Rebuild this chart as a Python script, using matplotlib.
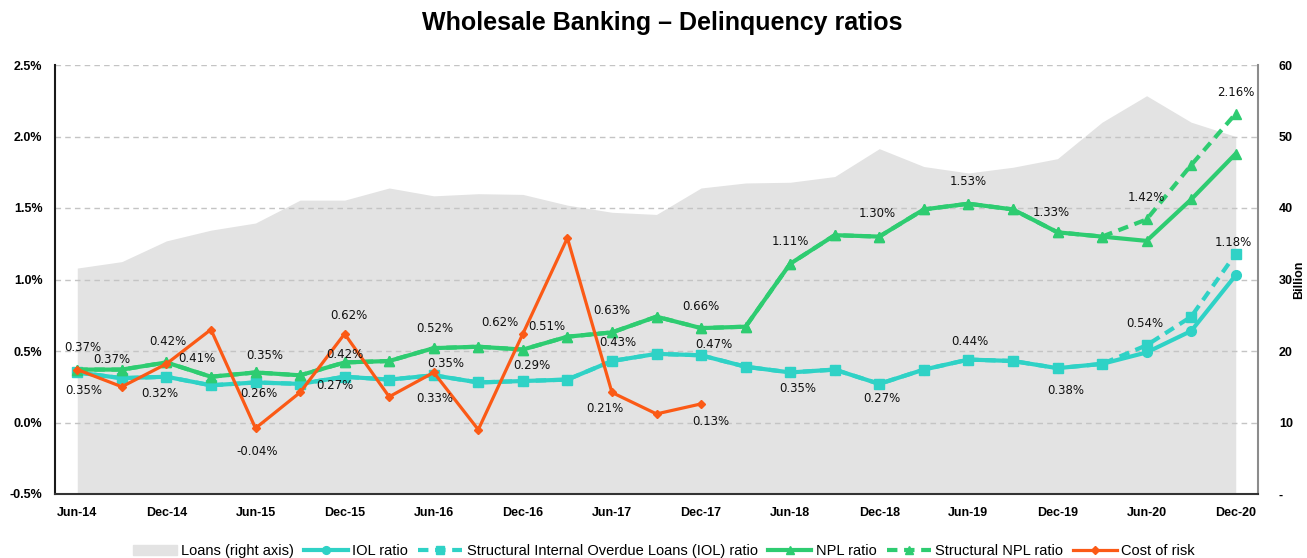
import numpy as np
import matplotlib
matplotlib.use("Agg")
import matplotlib.pyplot as plt
from matplotlib.patches import Patch

# quarterly data, Jun-14 .. Dec-20
quarters = ["Jun-14", "Sep-14", "Dec-14", "Mar-15", "Jun-15", "Sep-15", "Dec-15",
            "Mar-16", "Jun-16", "Sep-16", "Dec-16", "Mar-17", "Jun-17", "Sep-17",
            "Dec-17", "Mar-18", "Jun-18", "Sep-18", "Dec-18", "Mar-19", "Jun-19",
            "Sep-19", "Dec-19", "Mar-20", "Jun-20", "Sep-20", "Dec-20"]

loans = [31.6, 32.5, 35.4, 36.9, 37.9, 41.1, 41.1, 42.8, 41.7, 42.0, 41.9, 40.4, 39.4,
         39.1, 42.8, 43.5, 43.6, 44.4, 48.3, 45.8, 44.9, 45.7, 46.9, 52.0, 55.7, 52.0, 50.0]

iol = [0.35, 0.31, 0.32, 0.26, 0.28, 0.27, 0.32, 0.30, 0.33, 0.28, 0.29, 0.30, 0.43, 0.48,
       0.47, 0.39, 0.35, 0.37, 0.27, 0.37, 0.44, 0.43, 0.38, 0.41, 0.49, 0.64, 1.03]
iol_struct = [0.35, 0.31, 0.32, 0.26, 0.28, 0.27, 0.32, 0.30, 0.33, 0.28, 0.29, 0.30, 0.43, 0.48,
              0.47, 0.39, 0.35, 0.37, 0.27, 0.37, 0.44, 0.43, 0.38, 0.41, 0.54, 0.74, 1.18]

npl = [0.37, 0.37, 0.42, 0.32, 0.35, 0.33, 0.42, 0.43, 0.52, 0.53, 0.51, 0.60, 0.63, 0.74,
       0.66, 0.67, 1.11, 1.31, 1.30, 1.49, 1.53, 1.49, 1.33, 1.30, 1.27, 1.56, 1.88]
npl_struct = [0.37, 0.37, 0.42, 0.32, 0.35, 0.33, 0.42, 0.43, 0.52, 0.53, 0.51, 0.60, 0.63, 0.74,
              0.66, 0.67, 1.11, 1.31, 1.30, 1.49, 1.53, 1.49, 1.33, 1.30, 1.42, 1.80, 2.16]

cost_of_risk = [0.37, 0.25, 0.41, 0.65, -0.04, 0.21, 0.62, 0.18, 0.35, -0.05, 0.62, 1.29,
                0.21, 0.06, 0.13] + [np.nan] * 12

# which points carry a data label, and where (pixel offset: right, up)
data_labels = [
    ("cost", 0, 6, 22), ("npl", 1, -10, 10), ("iol", 0, 6, -18), ("iol", 2, -7, -17),
    ("npl", 2, 1, 21), ("cost", 2, 30, 5), ("iol", 3, 48, -8), ("npl", 4, 9, 17),
    ("cost", 4, 2, -23), ("iol", 5, 35, -2), ("cost", 6, 4, 18), ("npl", 6, 0, 8),
    ("npl", 8, 1, 20), ("cost", 8, 12, 9), ("iol", 8, 1, -23), ("cost", 10, -23, 11),
    ("npl", 10, 24, 23), ("iol", 10, 9, 16), ("npl", 12, 0, 22), ("iol", 12, 6, 19),
    ("cost", 12, -7, -16), ("npl", 14, 0, 22), ("iol", 14, 13, 11), ("cost", 14, 10, -18),
    ("npl", 16, 0, 22), ("iol", 16, 8, -16), ("npl", 18, -2, 23), ("iol", 18, 3, -15),
    ("npl", 20, 0, 22), ("iol", 20, 1, 18), ("npl", 22, -6, 20), ("iol", 22, 8, -22),
    ("npl_s", 24, 0, 22), ("iol_s", 24, -2, 22), ("npl_s", 26, 0, 21), ("iol_s", 26, -2, 11),
]

CYAN = "#2fd2c6"
GREEN = "#2ecc71"
ORANGE = "#fb5a16"
GREY = "#e3e3e3"

plt.rcParams["font.family"] = ["Liberation Sans", "DejaVu Sans"]

fig = plt.figure(figsize=(13.07, 5.58), dpi=100)
ax = fig.add_axes([55 / 1307, 1 - 494 / 558, 1203 / 1307, 429 / 558])
ax2 = ax.twinx()
ax.set_zorder(ax2.get_zorder() + 1)
ax.patch.set_visible(False)

x = np.arange(len(quarters))

# loans area on the right axis
ax2.fill_between(x, loans, 0, color=GREY, lw=0)
ax2.set_ylim(0, 60)
ax2.set_yticks(range(0, 61, 10))
ax2.set_yticklabels(["-"] + [str(v) for v in range(10, 61, 10)], fontweight="bold", fontsize=9)
ax2.tick_params(length=0, pad=15)
ax2.set_ylabel("Billion", fontweight="bold", fontsize=9, labelpad=0)
for s in ["left", "top", "bottom"]:
    ax2.spines[s].set_visible(False)
ax2.spines["right"].set_color("#8c8c8c")
ax2.spines["right"].set_linewidth(1.5)

series = {
    "iol": iol, "iol_s": iol_struct, "npl": npl, "npl_s": npl_struct, "cost": cost_of_risk,
}

h_iol, = ax.plot(x, iol, color=CYAN, lw=3, marker="o", ms=7, label="IOL ratio")
h_iols, = ax.plot(x, iol_struct, color=CYAN, lw=3, ls=(0, (2.5, 1.6)), marker="s", ms=7.5,
                  label="Structural Internal Overdue Loans (IOL) ratio")
h_npl, = ax.plot(x, npl, color=GREEN, lw=3, marker="^", ms=7.5, label="NPL ratio")
h_npls, = ax.plot(x, npl_struct, color=GREEN, lw=3, ls=(0, (2.5, 1.6)), marker="^", ms=7.5,
                  label="Structural NPL ratio")
h_cost, = ax.plot(x, cost_of_risk, color=ORANGE, lw=2.3, marker="D", ms=4.5, label="Cost of risk")

for key, i, dx, dy in data_labels:
    v = series[key][i]
    ax.annotate(f"{v:.2f}%", (x[i], v), xytext=(dx, dy), textcoords="offset pixels",
                ha="center", va="center", fontsize=8.5, color="#111111",
                family=["DejaVu Sans"], zorder=10)

ax.set_xlim(-0.5, 26.5)
ax.set_ylim(-0.5, 2.5)
yt = np.arange(-0.5, 2.51, 0.5)
ax.set_yticks(yt)
ax.set_yticklabels([f"{v:.1f}%" for v in yt], fontweight="bold", fontsize=9)
ax.set_xticks(x[::2])
ax.set_xticklabels(quarters[::2], fontweight="bold", fontsize=9)
ax.tick_params(axis="y", length=0, pad=9)
ax.tick_params(axis="x", length=0, pad=9)
ax.yaxis.grid(True, ls=(0, (4, 3)), color="#c4c4c4", lw=1)
ax.set_axisbelow(True)
ax.spines["top"].set_visible(False)
ax.spines["right"].set_visible(False)
ax.spines["left"].set_color("#1a1a1a")
ax.spines["left"].set_linewidth(1.5)
ax.spines["bottom"].set_color("#333333")
ax.spines["bottom"].set_linewidth(1.5)

fig.text(0.507, 0.958, "Wholesale Banking \u2013 Delinquency ratios", ha="center", va="center",
         fontsize=18, fontweight="bold")

handles = [Patch(color=GREY, label="Loans (right axis)"), h_iol, h_iols, h_npl, h_npls, h_cost]
fig.legend(handles=handles, loc="center", bbox_to_anchor=(0.508, 0.012), ncol=6, frameon=False,
           fontsize=10.5, handlelength=3.0, handletextpad=0.3, columnspacing=0.7, markerscale=0.8)

fig.savefig("out.png", dpi=100)
